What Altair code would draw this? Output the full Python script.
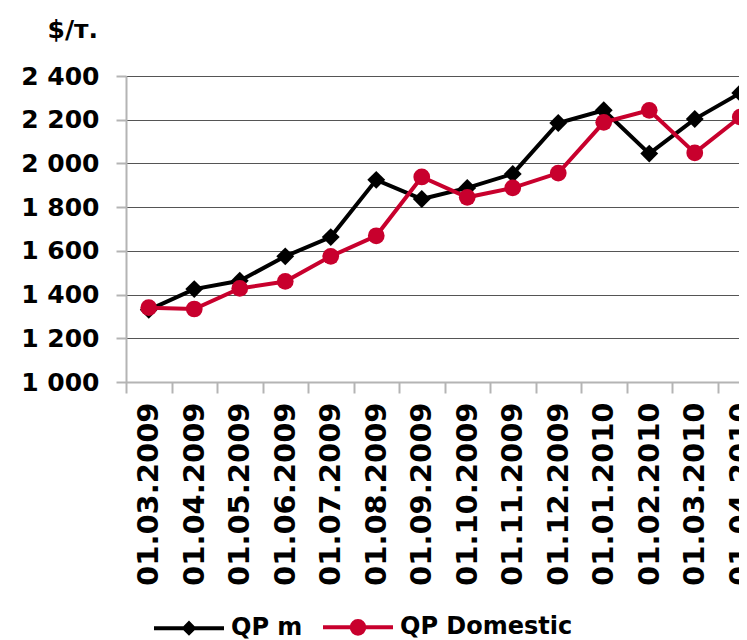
import altair as alt
import pandas as pd

dates = ["01.03.2009", "01.04.2009", "01.05.2009", "01.06.2009", "01.07.2009",
         "01.08.2009", "01.09.2009", "01.10.2009", "01.11.2009", "01.12.2009",
         "01.01.2010", "01.02.2010", "01.03.2010", "01.04.2010"]
qp_m = [1330, 1425, 1463, 1575, 1663, 1925, 1837, 1888, 1952, 2185, 2243, 2045, 2203, 2322]
qp_domestic = [1340, 1334, 1428, 1460, 1575, 1669, 1938, 1845, 1888, 1956, 2188, 2243, 2048, 2212]
series_names = ["QP m", "QP Domestic"]
series_colors = ["#000000", "#C8002D"]
y_ticks = [1000, 1200, 1400, 1600, 1800, 2000, 2200, 2400]

rows = []
for d, v in zip(dates, qp_m):
    rows.append({"date": d, "series": "QP m", "value": v})
for d, v in zip(dates, qp_domestic):
    rows.append({"date": d, "series": "QP Domestic", "value": v})
df = pd.DataFrame(rows)

FONT = "DejaVu Sans"

diamond_leg = "M-1,0H1M0,-0.135L0.135,0L0,0.135L-0.135,0Z"
circle_leg = "M-1,0H1M0.18,0A0.18,0.18,0,1,1,-0.18,0A0.18,0.18,0,1,1,0.18,0Z"

x_enc = alt.X("date:N", sort=dates,
              scale=alt.Scale(type="band", domain=dates, range=[0, 637],
                              paddingInner=0, paddingOuter=0),
              axis=alt.Axis(title=None, labelAngle=270, labelFont=FONT, labelFontSize=29,
                            labelFontWeight="bold", labelColor="#000", labelPadding=9,
                            labelLimit=400,
                            tickBand="extent", tickSize=11, tickColor="#b4b4b4",
                            tickWidth=2, domainColor="#b4b4b4", domainWidth=2, grid=False))
y_enc = alt.Y("value:Q",
              scale=alt.Scale(domain=[1000, 2400], nice=False, zero=False),
              axis=alt.Axis(values=y_ticks, title="$/т.", titleAngle=0, titleAlign="left",
                            titleBaseline="alphabetic", titleX=-79, titleY=-39,
                            titleFont=FONT, titleFontSize=25, titleFontWeight="bold",
                            titleColor="#000",
                            labelFont=FONT, labelFontSize=25, labelFontWeight="bold",
                            labelColor="#000", labelPadding=17,
                            labelExpr="replace(format(datum.value, ','), ',', ' ')",
                            tickSize=10, tickColor="#b4b4b4", tickWidth=2,
                            domainColor="#b4b4b4", domainWidth=2,
                            grid=True, gridColor="#555555", gridWidth=1))

leg = alt.Legend(title=None, orient="none", legendX=26, legendY=514,
                 direction="horizontal", symbolSize=4900, symbolStrokeWidth=4,
                 symbolOpacity=1, labelLimit=400,
                 labelFont=FONT, labelFontSize=24, labelFontWeight="bold",
                 labelColor="#000", labelOffset=5, columnPadding=12)

base = alt.Chart(df).encode(x=x_enc, y=y_enc)

layers = []
for name, col, shape, size in [("QP m", series_colors[0], "diamond", 320),
                               ("QP Domestic", series_colors[1], "circle", 280)]:
    sub = base.transform_filter(alt.datum.series == name)
    layers.append(sub.mark_line(strokeWidth=4, color=col))
    layers.append(sub.mark_point(shape=shape, filled=True, size=size, opacity=1,
                                 color=col, strokeWidth=0))

legend_layer = base.mark_point(opacity=0, size=10).encode(
    fill=alt.Fill("series:N", scale=alt.Scale(domain=series_names, range=series_colors), legend=leg),
    stroke=alt.Stroke("series:N", scale=alt.Scale(domain=series_names, range=series_colors), legend=leg),
    shape=alt.Shape("series:N", scale=alt.Scale(domain=series_names, range=[diamond_leg, circle_leg]), legend=leg),
)
layers.append(legend_layer)

chart = alt.layer(*layers).properties(
    width=613, height=306,
    autosize=alt.AutoSizeParams(type="none"),
    padding={"left": 118, "top": 68, "right": 0, "bottom": 258},
).configure_view(stroke=None).configure(background="white")

chart.save("out.html", embed_options={"renderer": "svg", "actions": False})
